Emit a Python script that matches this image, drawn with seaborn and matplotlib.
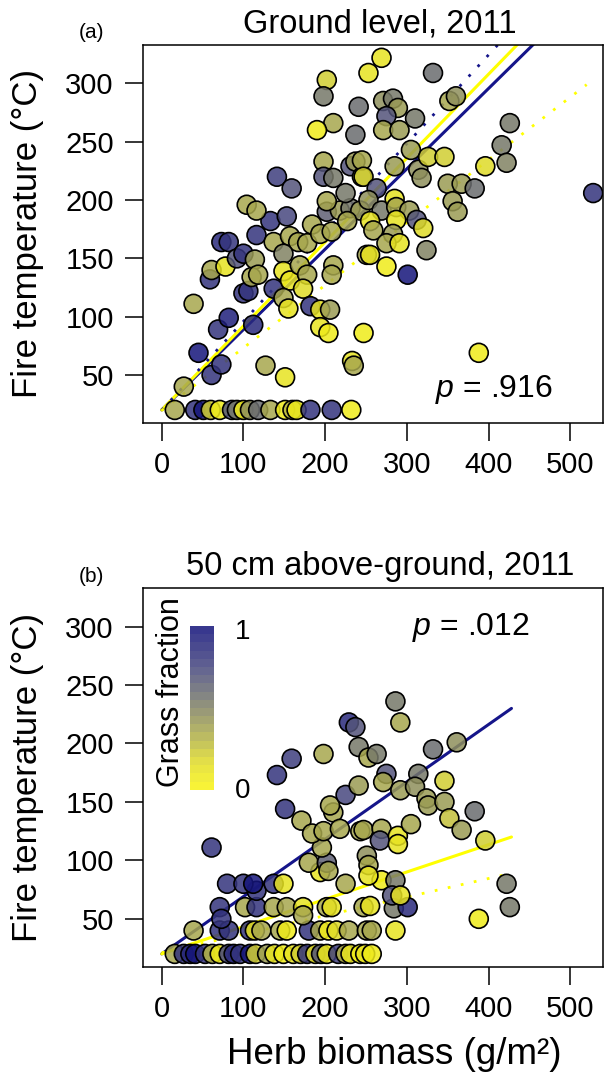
import numpy as np
import pandas as pd
import matplotlib
matplotlib.use("Agg")
import matplotlib.pyplot as plt
import seaborn as sns
from matplotlib.colors import LinearSegmentedColormap

# ---------------- data: panel (a) ground level ----------------
a_biomass = [16, 41, 51, 60, 71, 86, 92, 100, 108, 118, 133, 151, 160, 165, 182, 208, 232,
             27, 39, 61, 45, 73, 69, 82, 112, 59, 61, 78, 73, 82, 92, 100, 114, 100, 106, 110,
             118, 116, 133, 153, 104, 116, 141, 159, 137, 157, 167, 178, 149, 137, 149, 157,
             169, 178, 173, 149, 155, 182, 194, 206, 194, 204, 127, 151, 233, 235, 247, 210,
             208, 184, 194, 208, 202, 218, 231, 243, 225, 202, 227, 231, 237, 245, 198, 198,
             210, 202, 198, 210, 190, 241, 237, 253, 251,
             269, 332, 271, 283, 289, 275, 271, 291, 310, 352, 360, 305, 285, 314, 318, 326,
             346, 426, 416, 422, 396, 350, 367, 383, 356, 362, 245, 247, 263, 253, 269, 255,
             285, 287, 303, 312, 320, 287, 259, 283, 275, 291, 324, 255, 275, 301, 388, 528]
a_temp = [20, 20, 20, 20, 20, 20, 20, 20, 20, 20, 20, 20, 20, 20, 20, 20, 20,
          40, 111, 50, 69, 59, 89, 99, 93, 132, 140, 143, 164, 164, 150, 154, 149, 120, 122, 134,
          136, 170, 182, 186, 196, 191, 220, 210, 164, 169, 164, 163, 154, 124, 139, 131,
          144, 136, 124, 116, 107, 109, 106, 106, 91, 86, 58, 48, 62, 58, 86, 144,
          136, 179, 171, 173, 190, 191, 193, 191, 206, 199, 182, 229, 233, 220, 233, 220,
          219, 303, 289, 266, 260, 280, 256, 309, 153,
          322, 309, 285, 287, 279, 272, 260, 260, 270, 285, 289, 243, 229, 226, 219, 237,
          237, 266, 247, 232, 229, 214, 214, 210, 199, 190, 234, 220, 210, 200, 191, 182,
          201, 194, 191, 183, 176, 183, 174, 171, 163, 163, 157, 153, 143, 136, 69, 206]
a_grass = [0.35, 0.85, 1.0, 0.2, 0.05, 0.7, 0.55, 0.05, 0.45, 0.6, 0.35, 0.05, 0.3, 0.05, 0.85, 0.85, 0.05,
           0.35, 0.35, 0.85, 1.0, 0.85, 0.85, 0.95, 0.9, 0.85, 0.35, 0.1, 0.9, 0.85, 0.7, 0.85, 0.4, 0.85, 0.85, 0.35,
           0.35, 0.85, 0.85, 0.75, 0.35, 0.35, 0.8, 0.7, 0.35, 0.35, 0.35, 0.35, 0.5, 0.85, 0.1, 0.1,
           0.35, 0.35, 0.15, 0.35, 0.1, 0.85, 0.1, 0.4, 0.1, 0.05, 0.35, 0.1, 0.1, 0.35, 0.05, 0.35,
           0.35, 0.35, 0.35, 0.35, 0.65, 0.4, 0.55, 0.4, 0.55, 0.35, 0.35, 0.7, 0.4, 0.35, 0.35, 0.7,
           0.55, 0.2, 0.55, 0.35, 0.05, 0.6, 0.6, 0.1, 0.35,
           0.1, 0.6, 0.45, 0.55, 0.4, 0.7, 0.35, 0.4, 0.55, 0.35, 0.45, 0.4, 0.4, 0.45, 0.45, 0.2,
           0.2, 0.55, 0.55, 0.5, 0.15, 0.4, 0.4, 0.6, 0.4, 0.4, 0.35, 0.2, 0.7, 0.45, 0.55, 0.1,
           0.1, 0.35, 0.4, 0.7, 0.15, 0.1, 0.35, 0.4, 0.35, 0.1, 0.5, 0.1, 0.05, 1.0, 0.05, 0.85]

# ---------------- data: panel (b) 50 cm above ground ----------------
b_biomass = [16, 27, 35, 41, 53, 62, 71, 82, 88, 96, 108, 115, 129, 138, 149, 161, 170, 178, 188,
             195, 202, 216, 225, 231, 243, 249, 257,
             39, 71, 82, 108, 114, 122, 145, 153, 180, 194, 204, 214, 229, 251, 257, 286,
             71, 102, 116, 137, 153, 173, 202, 208, 247, 255, 284, 301, 426,
             73, 173, 116,
             80, 100, 112, 137, 149, 225, 269, 286, 422,
             282, 292, 388, 194, 180, 202, 196, 204, 61,
             151, 171, 184, 198, 210, 206, 218, 225, 241, 243,
             141, 159, 198, 229, 237, 241, 253,
             286, 292, 263, 275, 271, 292, 314, 310, 332, 361, 346, 324, 326, 346, 352, 367, 383,
             396, 247, 269, 267, 289, 289, 305, 251, 253, 253]
b_temp = [20, 20, 20, 20, 20, 20, 20, 20, 20, 20, 20, 20, 20, 20, 20, 20, 20, 20, 20,
          20, 20, 20, 20, 20, 20, 20, 20,
          40, 40, 40, 40, 40, 40, 40, 40, 40, 40, 40, 40, 40, 40, 40, 40,
          60, 60, 60, 60, 60, 60, 60, 60, 60, 61, 59, 60, 60,
          50, 53, 74,
          80, 80, 80, 80, 80, 80, 83, 83, 80,
          70, 70, 50, 90, 98, 98, 111, 91, 111,
          144, 134, 123, 125, 141, 147, 127, 156, 164, 125,
          173, 187, 191, 218, 214, 197, 188,
          236, 218, 191, 174, 167, 160, 174, 163, 195, 201, 168, 153, 147, 150, 136, 126, 142,
          117, 126, 127, 117, 121, 114, 131, 104, 96, 87]
b_grass = [0.35, 0.85, 0.9, 1.0, 0.85, 0.3, 0.05, 0.75, 0.9, 0.85, 1.0, 0.2, 0.4, 0.1, 0.05, 0.1, 0.2, 0.85, 0.1,
           0.7, 0.05, 0.8, 0.3, 0.1, 0.05, 0.1, 0.05,
           0.35, 0.85, 0.85, 0.85, 0.1, 0.35, 0.35, 0.05, 0.85, 0.35, 0.05, 0.15, 0.35, 0.35, 0.35, 0.1,
           0.85, 0.35, 0.85, 0.35, 0.35, 0.1, 0.35, 0.1, 0.35, 0.1, 0.55, 0.9, 0.55,
           0.85, 0.35, 0.85,
           0.85, 0.85, 1.0, 0.85, 0.1, 0.35, 0.05, 0.55, 0.55,
           0.7, 0.1, 0.05, 0.1, 0.35, 0.65, 0.35, 0.35, 0.85,
           0.85, 0.35, 0.35, 0.35, 0.35, 0.35, 0.35, 0.75, 0.4, 0.35,
           0.85, 0.8, 0.35, 0.9, 0.7, 0.55, 0.35,
           0.55, 0.35, 0.55, 0.7, 0.35, 0.4, 0.55, 0.45, 0.6, 0.45, 0.2, 0.4, 0.4, 0.4, 0.25, 0.4, 0.6,
           0.2, 0.35, 0.35, 0.7, 0.1, 0.1, 0.35, 0.45, 0.35, 0.1]

# ---------------- fitted lines ----------------
a_fit_grass1_x, a_fit_grass1_y = [0, 470], [20, 344]       # solid navy
a_fit_grass0_x, a_fit_grass0_y = [0, 450], [20, 344]       # solid yellow
a_dot_grass1_x, a_dot_grass1_y = [0, 420], [19.8, 339.8]   # dotted navy
a_dot_grass0_x, a_dot_grass0_y = [0, 520], [19.5, 299]     # dotted yellow

b_fit_grass1_x, b_fit_grass1_y = [0, 428], [20, 230]
b_fit_grass0_x, b_fit_grass0_y = [0, 428], [20, 120]
b_dot_grass0_x, b_dot_grass0_y = [0, 422], [21, 88]

x_ticks = [0, 100, 200, 300, 400, 500]
y_ticks = [50, 100, 150, 200, 250, 300]
legend_levels = np.linspace(1, 0, 20)

df_a = pd.DataFrame({"biomass": a_biomass, "temp": a_temp, "grass": a_grass})
df_b = pd.DataFrame({"biomass": b_biomass, "temp": b_temp, "grass": b_grass})

# ---------------- style ----------------
sns.set_theme(style="ticks")
plt.rcParams["font.family"] = ["Liberation Sans", "DejaVu Sans"]
plt.rcParams["mathtext.fontset"] = "custom"
plt.rcParams["mathtext.it"] = "Liberation Sans:italic"
plt.rcParams["mathtext.rm"] = "Liberation Sans"
for key in ["text.color", "axes.labelcolor", "xtick.color", "ytick.color",
            "axes.edgecolor", "xtick.labelcolor", "ytick.labelcolor"]:
    plt.rcParams[key] = "black"

# colour ramp: yellow -> olive -> grey -> slate blue (appearance on white), drawn at alpha .85
ALPHA = 0.85
ramp_pos = [0.0, 0.15, 0.35, 0.55, 0.75, 1.0]
ramp_seen = [(248, 244, 55), (228, 224, 72), (180, 180, 104), (138, 140, 128),
             (100, 100, 146), (56, 56, 142)]
ramp = []
for p, rgb in zip(ramp_pos, ramp_seen):
    base = [min(max((c - 255 * (1 - ALPHA)) / ALPHA, 0), 255) / 255 for c in rgb]
    ramp.append((p, (*base, ALPHA)))
cmap = LinearSegmentedColormap.from_list("grass", ramp)
NAVY = "#15158a"
YELLOW = "#ffff00"

fig = plt.figure(figsize=(6.08, 10.78), dpi=100)
ax_a = fig.add_axes([143 / 608, 1 - 423 / 1078, 460 / 608, 378 / 1078])
ax_b = fig.add_axes([143 / 608, 1 - 967 / 1078, 460 / 608, 379 / 1078])


def style_axes(ax):
    ax.set_xlim(-22.9, 540)
    ax.set_ylim(8.8, 333)
    ax.set_xticks(x_ticks)
    ax.set_yticks(y_ticks)
    for sp in ax.spines.values():
        sp.set_visible(True)
        sp.set_color("black")
        sp.set_linewidth(1.1)
    ax.tick_params(axis="both", direction="out", length=13, width=1.1,
                   labelsize=21, colors="black")
    ax.tick_params(axis="x", pad=7)
    ax.tick_params(axis="y", pad=8)
    ax.set_facecolor("white")


def draw_points(ax, df):
    sns.scatterplot(data=df, x="biomass", y="temp", hue="grass", palette=cmap,
                    hue_norm=(0, 1), s=185, edgecolor="black", linewidth=1.2,
                    legend=False, ax=ax, zorder=3)


# ---- panel (a)
sns.lineplot(x=a_fit_grass1_x, y=a_fit_grass1_y, color=NAVY, linewidth=2.2, ax=ax_a, zorder=2)
sns.lineplot(x=a_fit_grass0_x, y=a_fit_grass0_y, color=YELLOW, linewidth=2.2, ax=ax_a, zorder=2)
sns.lineplot(x=a_dot_grass1_x, y=a_dot_grass1_y, color=NAVY, linewidth=2.0,
             linestyle=(0, (1, 3.8)), ax=ax_a, zorder=2)
sns.lineplot(x=a_dot_grass0_x, y=a_dot_grass0_y, color=YELLOW, linewidth=2.0,
             linestyle=(0, (1, 3.8)), ax=ax_a, zorder=2)
draw_points(ax_a, df_a)
style_axes(ax_a)
ax_a.set_xlabel("")
ax_a.set_ylabel("Fire temperature (°C)", fontsize=25)
ax_a.yaxis.set_label_coords(-0.215, 0.5)
ax_a.set_title("Ground level, 2011", fontsize=23.5, pad=9, x=0.515)
ax_a.text(406, 31, r"$p$ = .916", fontsize=23, ha="center", va="baseline")

# ---- panel (b)
sns.lineplot(x=b_fit_grass1_x, y=b_fit_grass1_y, color=NAVY, linewidth=2.2, ax=ax_b, zorder=2)
sns.lineplot(x=b_fit_grass0_x, y=b_fit_grass0_y, color=YELLOW, linewidth=2.2, ax=ax_b, zorder=2)
sns.lineplot(x=b_dot_grass0_x, y=b_dot_grass0_y, color=YELLOW, linewidth=2.0,
             linestyle=(0, (1, 3.8)), ax=ax_b, zorder=2)
draw_points(ax_b, df_b)
style_axes(ax_b)
ax_b.set_xlabel("Herb biomass (g/m²)", fontsize=26.5)
ax_b.xaxis.set_label_coords(0.546, -0.185)
ax_b.set_ylabel("Fire temperature (°C)", fontsize=25)
ax_b.yaxis.set_label_coords(-0.215, 0.5)
ax_b.set_title("50 cm above-ground, 2011", fontsize=23.5, pad=9, x=0.515)
ax_b.text(378, 293, r"$p$ = .012", fontsize=23, ha="center", va="baseline")

# colour key
cax = ax_b.inset_axes([34.6, 160.4, 29.4, 140], transform=ax_b.transData)
sns.heatmap(legend_levels.reshape(-1, 1), cmap=cmap, vmin=0, vmax=1, cbar=False,
            xticklabels=False, yticklabels=False, ax=cax)
cax.set_axis_off()
ax_b.text(99.5, 289, "1", fontsize=20, ha="center", va="baseline")
ax_b.text(99, 153.6, "0", fontsize=20, ha="center", va="baseline")
ax_b.text(11.4, 244, "Grass fraction", fontsize=22, rotation=90, ha="center", va="center")

fig.text(91 / 608, 1 - 32 / 1078, "(a)", fontsize=15, ha="center", va="center")
fig.text(91 / 608, 1 - 577 / 1078, "(b)", fontsize=15, ha="center", va="center")

fig.savefig("out.png", dpi=100, facecolor="white")
